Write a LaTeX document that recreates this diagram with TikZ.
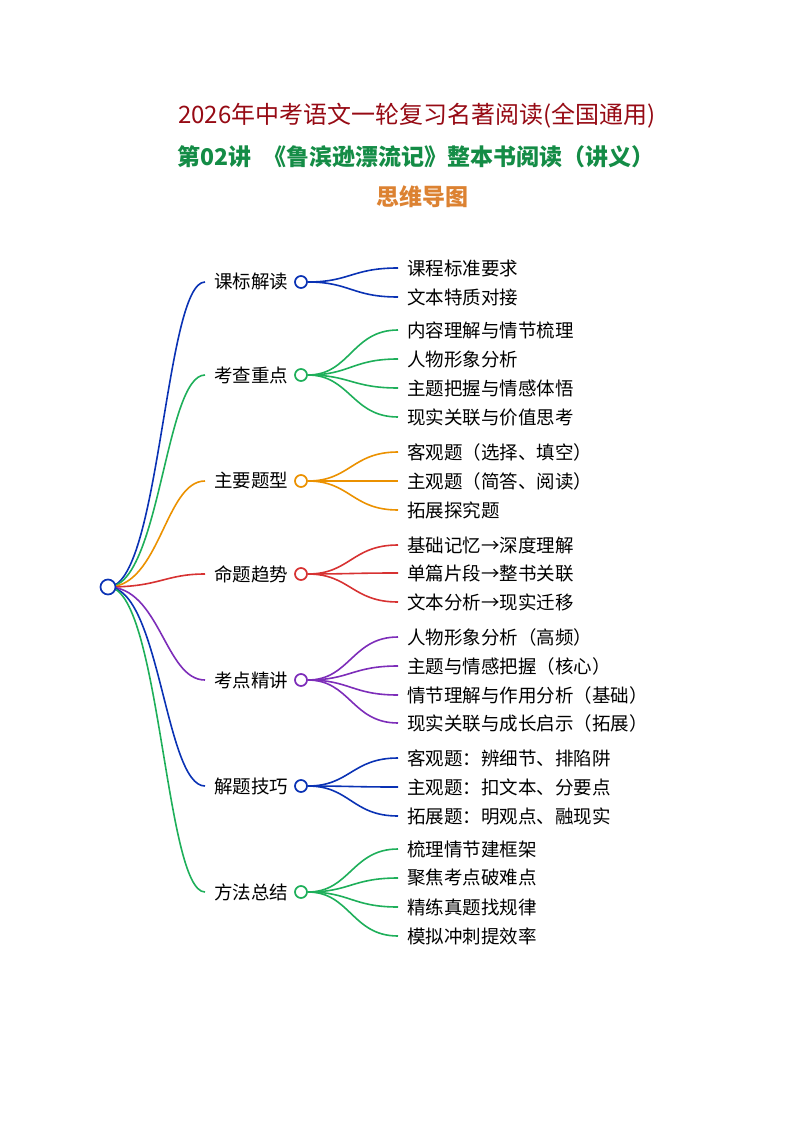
\documentclass[tikz,border=0pt]{standalone}
\usepackage{fontspec}
\setmainfont{Noto Sans CJK SC}
\begin{document}
\begin{tikzpicture}[x=1pt,y=-1pt,
  lab/.style={anchor=west,font=\fontsize{18.5}{20}\selectfont,inner sep=0pt},
  dot/.style={circle,draw,line width=1.7pt,fill=white,minimum size=13pt,inner sep=0pt},
  ln/.style={line width=1.6pt}]
\useasboundingbox (0,0) rectangle (794,1123);
\definecolor{cb}{RGB}{10,50,180}
\definecolor{cg}{RGB}{30,175,90}
\definecolor{co}{RGB}{235,145,0}
\definecolor{cr}{RGB}{215,50,50}
\definecolor{cp}{RGB}{125,45,185}
\definecolor{tr}{RGB}{150,10,20}
\definecolor{tg}{RGB}{20,140,70}
\definecolor{to}{RGB}{220,130,50}
\node[text=tr,font=\fontsize{24}{26}\selectfont] (t1) at (417,116) {2026年中考语文一轮复习名著阅读(全国通用)};
\node[text=tg,font=\bfseries\fontsize{23}{26}\selectfont] (t2) at (416,157) {第02讲\enspace《鲁滨逊漂流记》整本书阅读（讲义）};
\node[text=to,font=\bfseries\fontsize{23}{26}\selectfont] (t3) at (422,197) {思维导图};
\foreach \bid/\lbl/\by/\col/\kids in {
  b1/课标解读/282/cb/{268/课程标准要求,297/文本特质对接},
  b2/考查重点/375/cg/{330/内容理解与情节梳理,359/人物形象分析,388/主题把握与情感体悟,417/现实关联与价值思考},
  b3/主要题型/481/co/{452/客观题（选择、填空）,481/主观题（简答、阅读）,510/拓展探究题},
  b4/命题趋势/574/cr/{545/基础记忆→深度理解,573/单篇片段→整书关联,602/文本分析→现实迁移},
  b5/考点精讲/680/cp/{637/人物形象分析（高频）,666/主题与情感把握（核心）,695/情节理解与作用分析（基础）,723/现实关联与成长启示（拓展）},
  b6/解题技巧/786/cb/{758/客观题：辨细节、排陷阱,787/主观题：扣文本、分要点,816/拓展题：明观点、融现实},
  b7/方法总结/892/cg/{849/梳理情节建框架,878/聚焦考点破难点,907/精练真题找规律,936/模拟冲刺提效率}} {
  \coordinate (\bid s) at (205,\by);
  \node[lab] (\bid l) at (214,\by) {\lbl};
  \node[dot,draw=\col,minimum size=12pt] (\bid c) at (301,\by) {};
  \draw[ln,\col] (108,587) .. controls (160,587) and (165,\by) .. (\bid s);
  \foreach \cy/\ct [count=\i] in \kids {
    \coordinate (\bid k\i) at (398,\cy);
    \node[lab] (\bid t\i) at (407,\cy) {\ct};
    \draw[ln,\col] (\bid c.east) .. controls (350,\by) and (352,\cy) .. (\bid k\i);
  }
}
\node[dot,draw=cb,minimum size=15pt] (root) at (108,587) {};
\end{tikzpicture}
\end{document}
